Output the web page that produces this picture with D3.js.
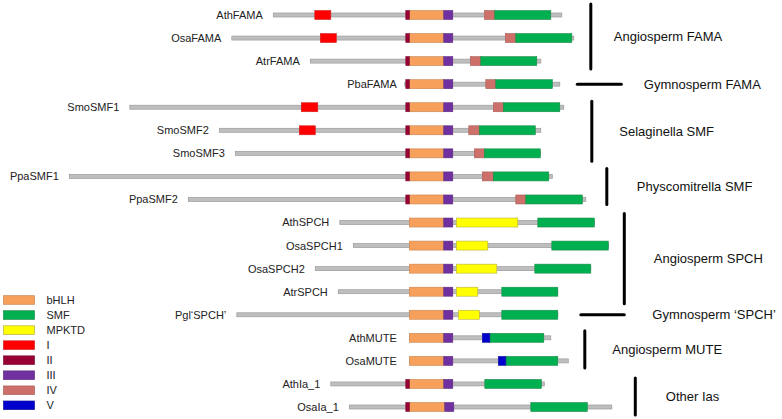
<!DOCTYPE html>
<html>
<head>
<meta charset="utf-8">
<script src="https://cdn.jsdelivr.net/npm/d3@7"></script>
<style>
  html, body { margin: 0; padding: 0; background: #ffffff; }
  svg { display: block; font-family: "Liberation Sans", Arial, sans-serif; }
</style>
</head>
<body>
<svg id="chart" width="782" height="419"></svg>
<script>
// ---------------- DATA (positions in aligned residue-like units, bHLH start = 0) ----------------
const proteins = ["AthFAMA","OsaFAMA","AtrFAMA","PbaFAMA","SmoSMF1","SmoSMF2","SmoSMF3","PpaSMF1","PpaSMF2",
  "AthSPCH","OsaSPCH1","OsaSPCH2","AtrSPCH","Pgl\u2018SPCH\u2019","AthMUTE","OsaMUTE","AthIa_1","OsaIa_1"];
const seqStart = [-272,-355,-198,-9,-559,-380,-348,-680,-442,-139,-112,-188,-142,-345,0,0,-157,-120];
const seqEnd   = [ 305, 329, 263,301, 309, 263, 262, 286, 353, 370, 398, 363, 297, 297,283,318,270,405];

// domain records: [protein, start, end]
const domainI = [["AthFAMA",-189,-157],["OsaFAMA",-178,-146],["SmoSMF1",-216,-183],["SmoSMF2",-220,-188]];
const domainII = ["AthFAMA","OsaFAMA","AtrFAMA","PbaFAMA","SmoSMF1","SmoSMF2","SmoSMF3","PpaSMF1","PpaSMF2","AthIa_1","OsaIa_1"]
  .map(p => [p, -7, 0]);
const domainBHLH = proteins.map(p => [p, 0, p === "OsaIa_1" ? 71 : 69]);
const domainIII = proteins.map(p => p === "OsaIa_1" ? [p, 71, 89] : [p, 69, 87]);
const domainIV = [["AthFAMA",150,171],["OsaFAMA",192,213],["AtrFAMA",122,143],["PbaFAMA",153,173],
  ["SmoSMF1",168,188],["SmoSMF2",119,140],["SmoSMF3",130,150],["PpaSMF1",146,168],["PpaSMF2",213,233]];
const domainMPKTD = [["AthSPCH",94,217],["OsaSPCH1",94,157],["OsaSPCH2",94,175],["AtrSPCH",94,137],["Pgl\u2018SPCH\u2019",98,140]];
const domainV = [["AthMUTE",146,161],["OsaMUTE",178,193]];
const domainSMF = [["AthFAMA",171,283],["OsaFAMA",213,325],["AtrFAMA",143,255],["PbaFAMA",173,286],
  ["SmoSMF1",188,301],["SmoSMF2",140,252],["SmoSMF3",150,262],["PpaSMF1",168,279],["PpaSMF2",233,346],
  ["AthSPCH",257,370],["OsaSPCH1",285,398],["OsaSPCH2",251,363],["AtrSPCH",185,297],["Pgl\u2018SPCH\u2019",185,297],
  ["AthMUTE",161,269],["OsaMUTE",193,297],["AthIa_1",151,264],["OsaIa_1",243,356]];

const legendNames = ["bHLH","SMF","MPKTD","I","II","III","IV","V"];

// groups: name, first protein, last protein
const groupNames = ["Angiosperm FAMA","Gymnosperm FAMA","Selaginella SMF","Physcomitrella SMF",
  "Angiosperm SPCH","Gymnosperm \u2018SPCH\u2019","Angiosperm MUTE","Other Ias"];
const groupFirst = ["AthFAMA","PbaFAMA","SmoSMF1","PpaSMF1","AthSPCH","Pgl\u2018SPCH\u2019","AthMUTE","AthIa_1"];
const groupLast  = ["AtrFAMA","PbaFAMA","SmoSMF3","PpaSMF2","AtrSPCH","Pgl\u2018SPCH\u2019","OsaMUTE","OsaIa_1"];

// ---------------- LAYOUT / STYLE ----------------
const colors = {
  bHLH: "#F7A05C", SMF: "#00B050", MPKTD: "#FFFF00", I: "#FF0000",
  II: "#990033", III: "#7030A0", IV: "#CD706A", V: "#0000CC"
};
const strokes = {
  bHLH: "#C98550", SMF: "#1E8A4A", MPKTD: "#B8B040", I: "#D02020",
  II: "#7A1030", III: "#5A2A80", IV: "#A86058", V: "#1010A0"
};
// group bracket layout in x-scale units: [x1, x2] (x1==x2 => vertical bracket) and label x
const groupLineX = [[363,363],[336,424],[365,365],[395,395],[430,430],[343,430],[351,351],[452,452]];
const groupLabelX = [409,469,420,455,489,486,406,513];
const groupPad = [[-11,8],[0,0],[-6,8],[-8,5],[-9,12],[0,0],[-7,7],[-6,8]];

const svg = d3.select("#chart");
const x = d3.scaleLinear().domain([0, 100]).range([409.3, 459.3]);
const y = d3.scalePoint().domain(proteins).range([15, 407]);
const boxH = 9, lineH = 4;

// backbones
svg.append("g").selectAll("rect").data(proteins).join("rect")
  .attr("x", (d, i) => x(seqStart[i]))
  .attr("y", d => y(d) - lineH / 2)
  .attr("width", (d, i) => x(seqEnd[i]) - x(seqStart[i]))
  .attr("height", lineH)
  .attr("fill", "#BEBEBE")
  .attr("stroke", "#9C9C9C")
  .attr("stroke-width", 0.7);

// labels
svg.append("g").selectAll("text").data(proteins).join("text")
  .attr("x", (d, i) => x(Math.min(seqStart[i], -9)) - (seqStart[i] < -9 ? 10.5 : 8))
  .attr("y", d => y(d))
  .attr("dy", "0.36em")
  .attr("text-anchor", "end")
  .attr("font-size", 11)
  .attr("fill", "#222")
  .text(d => d);

function drawDomains(list, key) {
  svg.append("g").selectAll("rect").data(list).join("rect")
    .attr("x", d => x(d[1]))
    .attr("y", d => y(d[0]) - boxH / 2)
    .attr("width", d => x(d[2]) - x(d[1]))
    .attr("height", boxH)
    .attr("fill", colors[key])
    .attr("stroke", strokes[key])
    .attr("stroke-width", 0.6);
}
drawDomains(domainBHLH, "bHLH");
drawDomains(domainII, "II");
drawDomains(domainIII, "III");
drawDomains(domainI, "I");
drawDomains(domainIV, "IV");
drawDomains(domainMPKTD, "MPKTD");
drawDomains(domainSMF, "SMF");
drawDomains(domainV, "V");

// group brackets and labels
const gG = svg.append("g");
groupNames.forEach((name, i) => {
  const y1 = y(groupFirst[i]), y2 = y(groupLast[i]);
  const [x1, x2] = groupLineX[i];
  if (x1 === x2) {
    gG.append("line")
      .attr("x1", x(x1)).attr("x2", x(x2))
      .attr("y1", y1 + groupPad[i][0]).attr("y2", y2 + groupPad[i][1])
      .attr("stroke", "#000").attr("stroke-width", 3).attr("stroke-linecap", "round");
  } else {
    gG.append("line")
      .attr("x1", x(x1)).attr("x2", x(x2))
      .attr("y1", y1).attr("y2", y1)
      .attr("stroke", "#000").attr("stroke-width", 3).attr("stroke-linecap", "round");
  }
  const ly = (y1 + y2) / 2 + (x1 === x2 ? (groupPad[i][0] + groupPad[i][1]) / 2 : 0);
  gG.append("text")
    .attr("x", x(groupLabelX[i]))
    .attr("y", ly)
    .attr("dy", "0.36em")
    .attr("font-size", 13)
    .attr("fill", "#111")
    .text(name);
});

// legend
const ly = d3.scalePoint().domain(legendNames).range([300, 405.3]);
const lg = svg.append("g");
lg.selectAll("rect").data(legendNames).join("rect")
  .attr("x", 3.5).attr("y", d => ly(d) - 4.3)
  .attr("width", 31).attr("height", 8.6)
  .attr("fill", d => colors[d])
  .attr("stroke", d => strokes[d])
  .attr("stroke-width", 0.7);
lg.selectAll("text").data(legendNames).join("text")
  .attr("x", 46.5).attr("y", d => ly(d))
  .attr("dy", "0.36em")
  .attr("font-size", 11)
  .attr("fill", "#222")
  .text(d => d);
</script>
</body>
</html>
